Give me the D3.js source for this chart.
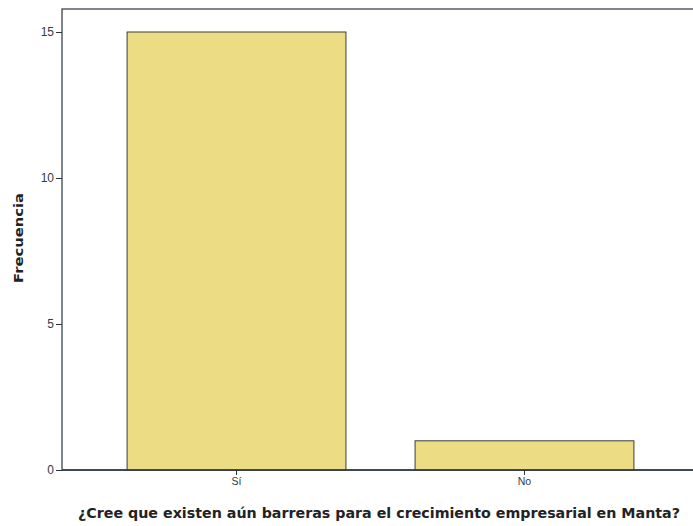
<!DOCTYPE html>
<html><head><meta charset="utf-8">
<script src="https://cdn.jsdelivr.net/npm/d3@7"></script>
<style>body{margin:0;background:#fff}svg{display:block}</style>
</head><body>
<svg id="c" width="693" height="526"></svg>
<script>
const categories = ["Sí", "No"];
const values = [15, 1];
const yTicks = [0, 5, 10, 15];
const yLabel = "Frecuencia";
const xLabel = "¿Cree que existen aún barreras para el crecimiento empresarial en Manta?";

(function () {
const svg = d3.select("#c");
const mLeft = 62, mRight = 699, mTop = 9, mBottom = 470;
const y = d3.scaleLinear().domain([0, 15]).range([mBottom, 32]);
const x = d3.scaleBand().domain(categories).range([mLeft, mRight]).paddingInner(0.24).paddingOuter(0.226);

svg.append("rect").attr("x", mLeft).attr("y", mTop).attr("width", mRight - mLeft).attr("height", mBottom - mTop)
  .attr("fill", "#fff").attr("stroke", "#2b3540").attr("stroke-width", 1.2);

svg.selectAll("rect.bar").data(values).enter().append("rect").attr("class", "bar")
  .attr("x", (d, i) => x(categories[i]))
  .attr("y", d => y(d))
  .attr("width", x.bandwidth())
  .attr("height", d => mBottom - y(d))
  .attr("fill", "#ecdc84").attr("stroke", "#3a3f3a").attr("stroke-width", 1);

const ya = svg.append("g").attr("transform", `translate(${mLeft},0)`)
  .call(d3.axisLeft(y).tickValues(yTicks).tickSize(6).tickPadding(2));
ya.select(".domain").remove();
ya.selectAll("line").attr("stroke", "#2b3540");
ya.selectAll("text").attr("font-family", "Liberation Sans, Arial, sans-serif").attr("font-size", 12).attr("fill", "#333a44");

const xa = svg.append("g").attr("transform", `translate(0,${mBottom})`)
  .call(d3.axisBottom(x).tickSize(5).tickPadding(3));
xa.select(".domain").remove();
xa.selectAll("line").attr("stroke", "#2b3540");
xa.selectAll("text").attr("font-family", "Liberation Sans, Arial, sans-serif").attr("font-size", 10.5).attr("fill", "#333a44");

svg.append("line").attr("x1", mLeft).attr("x2", mRight).attr("y1", mBottom).attr("y2", mBottom)
  .attr("stroke", "#2b3540").attr("stroke-width", 1.3);

svg.append("text").attr("transform", "translate(23,238) rotate(-90)")
  .attr("text-anchor", "middle").attr("font-family", "DejaVu Sans, Verdana, sans-serif")
  .attr("font-weight", "bold").attr("font-size", 13).attr("fill", "#222")
  .attr("textLength", 90).attr("lengthAdjust", "spacingAndGlyphs").text(yLabel);

svg.append("text").attr("x", 379).attr("y", 518)
  .attr("text-anchor", "middle").attr("font-family", "DejaVu Sans, Verdana, sans-serif")
  .attr("font-weight", "bold").attr("font-size", 14).attr("fill", "#222")
  .attr("textLength", 602).attr("lengthAdjust", "spacingAndGlyphs").text(xLabel);
})();
</script>
</body></html>
